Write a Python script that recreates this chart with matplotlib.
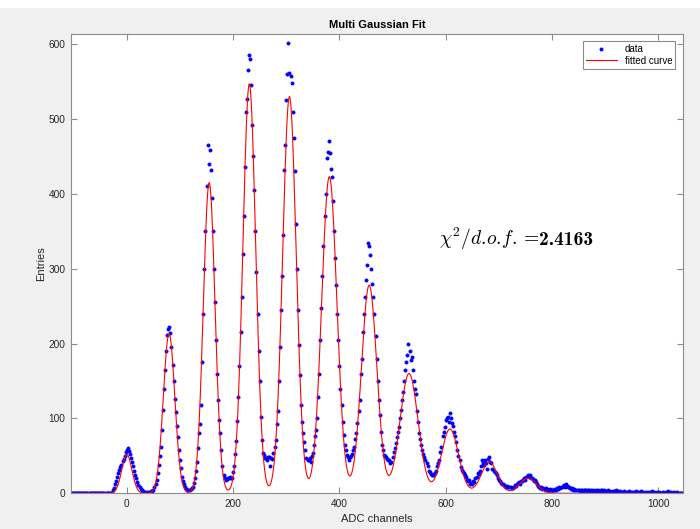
import numpy as np
import matplotlib
matplotlib.use('Agg')
import matplotlib.pyplot as plt
from matplotlib.patches import Rectangle

plt.rcParams['font.family'] = ['Liberation Sans', 'DejaVu Sans']
plt.rcParams['mathtext.fontset'] = 'cm'

# histogram counts, one value every 2 ADC channels, grouped by start channel
ped_start, ped_counts = -104, [0] * 38
p0_start, p0_counts = -28, [1, 4, 7, 12, 17, 22, 27, 31, 35, 38, 43, 46, 50, 55, 58, 60, 56, 52, 47, 42,
                            37, 30, 25, 20, 15, 11, 8, 6, 4, 3, 2, 1, 2, 1, 2, 1, 2, 3, 3]
p1_start, p1_counts = 50, [5, 8, 12, 18, 27, 38, 50, 62, 85, 111, 140, 165, 190, 212, 219, 222, 214, 195,
                           172, 150, 126, 108, 90, 75, 58, 45, 34, 22, 17, 12, 9, 6, 5, 4, 4, 6, 7, 9,
                           14, 20, 30]
p2_start, p2_counts = 132, [42, 60, 80, 92, 118, 175, 240, 300, 350, 410, 465, 440, 458, 432, 395, 350,
                            300, 255, 205, 160, 125, 98, 80, 58, 36, 24, 20, 18, 19, 21, 20, 22, 21, 20]
p3_start, p3_counts = 200, [28, 36, 52, 70, 96, 128, 170, 215, 262, 320, 370, 436, 510, 527, 566, 586, 580,
                            545, 492, 450, 405, 350, 295, 240, 190, 150, 102, 71, 54, 51, 47, 47, 45, 49,
                            48, 36, 47, 46, 54, 62, 71]
p4_start, p4_counts = 282, [92, 110, 150, 195, 245, 290, 345, 432, 465, 526, 560, 601, 562, 557, 548, 510,
                            475, 430, 360, 300, 245, 198, 158, 118, 95, 80, 68, 58, 47, 45, 44, 47, 42,
                            50, 54, 65, 76, 85, 100, 128]
p5_start, p5_counts = 362, [160, 205, 248, 290, 330, 370, 400, 448, 456, 470, 455, 433, 423, 390, 350, 315,
                            278, 240, 205, 170, 140, 118, 95, 78, 65, 58, 51, 48, 44, 49, 50, 53, 58, 62,
                            72, 80, 94, 110, 124]
p6_start, p6_counts = 440, [160, 180, 215, 240, 262, 285, 305, 335, 330, 318, 300, 280, 262, 240, 210, 180,
                            150, 125, 105, 82, 65, 58, 51, 50, 49, 46, 44, 45, 40, 42, 49, 55, 60, 67,
                            75, 82, 89, 100, 111, 124]
p7_start, p7_counts = 520, [135, 150, 165, 175, 185, 200, 190, 178, 182, 165, 150, 140, 133, 110, 95, 80,
                            72, 64, 58, 52, 48, 45, 40, 36, 30, 29, 26, 25, 24, 26, 27, 30, 36, 40, 45,
                            55, 62, 76, 82, 88]
p8_start, p8_counts = 600, [98, 100, 102, 95, 107, 100, 94, 90, 82, 76, 68, 58, 50, 44, 35, 31, 29, 27, 24,
                            22, 18, 17, 18, 13, 14, 12, 16, 15, 20, 22, 27, 26, 30, 36, 44, 40, 38, 44,
                            40, 33, 46, 49, 42, 40, 33, 30, 28, 27, 24, 20]
p10_start, p10_counts = 700, [18, 16, 14, 13, 12, 11, 10, 9, 10, 8, 9, 8, 7, 7, 9, 11, 10, 12, 14, 15, 13,
                              17, 16, 18, 20, 18, 22, 25, 22, 24, 20, 21, 19, 16, 18, 15, 12, 10, 9, 7,
                              8, 6, 7, 5, 7, 6, 5, 4, 6, 5]
tail1_start, tail1_counts = 800, [4, 5, 5, 6, 4, 7, 6, 8, 7, 9, 10, 11, 9, 12, 10, 8, 9, 7, 6, 7, 5, 6, 5,
                                  4, 5, 4, 3, 5, 4, 3, 4, 5, 4, 3, 4, 5, 3, 4, 3, 4, 3, 5, 3, 4, 3, 2,
                                  4, 5, 3, 4]
tail2_start, tail2_counts = 900, [3, 2, 3, 4, 2, 3, 2, 3, 2, 3, 4, 2, 3, 2, 3, 2, 1, 2, 3, 2, 1, 2, 3, 2,
                                  1, 2, 1, 2, 2, 3, 1, 2, 1, 2, 3, 1, 2, 1, 2, 1, 2, 1, 2, 1, 3, 1, 2,
                                  1, 1, 2, 1, 2, 1, 1, 2, 1, 1, 2, 1, 3, 1, 1, 2, 1, 1, 2, 1, 1, 2, 1,
                                  1, 1, 1]

# multi gaussian fit result
fit_mean = [0, 79.5, 155, 230.5, 306, 381, 456, 531, 608, 682, 755]
fit_amp = [52, 213, 415, 547, 530, 423, 278, 160, 86, 42, 20]
fit_sigma = [9.5, 10.8, 11, 12, 12.7, 14.3, 14.5, 17, 16, 15, 16]
chi2_dof = 2.4163

segments = [(ped_start, ped_counts), (p0_start, p0_counts), (p1_start, p1_counts),
            (p2_start, p2_counts), (p3_start, p3_counts), (p4_start, p4_counts),
            (p5_start, p5_counts), (p6_start, p6_counts), (p7_start, p7_counts),
            (p8_start, p8_counts), (p10_start, p10_counts), (tail1_start, tail1_counts),
            (tail2_start, tail2_counts)]
x_data = np.concatenate([s + 2 * np.arange(len(c)) for s, c in segments])
y_data = np.concatenate([np.array(c, dtype=float) for s, c in segments])

x_fit = np.linspace(-105, 1046, 3000)
y_fit = np.zeros_like(x_fit)
for m, a, s in zip(fit_mean, fit_amp, fit_sigma):
    y_fit += a * np.exp(-(x_fit - m) ** 2 / (2 * s ** 2))

fig = plt.figure(figsize=(7, 5.29), dpi=100, facecolor='#f0f0f0')
fig.patches.append(Rectangle((0, 1 - 7 / 529), 1, 7 / 529, transform=fig.transFigure,
                             color='white', zorder=0))
ax = fig.add_axes([71 / 700, 1 - 493.3 / 529, 612 / 700, 459.6 / 529])

ax.plot(x_data, y_data, '.', color='b', ms=4.5, mew=0.6, label='data', zorder=2)
ax.plot(x_fit, y_fit, '-', color='r', lw=0.8, label='fitted curve', zorder=3)

ax.set_xlim(-105, 1046.5)
ax.set_ylim(0, 614)
ax.set_xticks(np.arange(0, 1001, 200))
ax.set_yticks(np.arange(0, 601, 100))

grey = '#262626'
for sp in ax.spines.values():
    sp.set_color('#8c8c8c')
    sp.set_linewidth(0.8)
ax.tick_params(direction='in', length=4, width=0.8, color='#8c8c8c', labelcolor=grey,
               labelsize=7.3, top=True, right=True, pad=4)

ax.set_title('Multi Gaussian Fit', fontsize=8, fontweight='bold', color='black', pad=4)
ax.set_xlabel('ADC channels', fontsize=8, color=grey, labelpad=4)
ax.set_ylabel('Entries', fontsize=8, color=grey, labelpad=2)

# chi2 label: math part, then the bold value right after it
t1 = ax.text(588, 332, r'$\chi^2/d.\!o.\!f.=$', fontsize=14, ha='left', va='baseline')
fig.canvas.draw()
bb = t1.get_window_extent()
x_num = ax.transData.inverted().transform((bb.x1 - 1, 0))[0]
ax.text(x_num, 332, '%.4f' % chi2_dof, fontsize=14, family='cmb10', fontweight='bold',
        ha='left', va='baseline')

leg = ax.legend(loc='upper right', fontsize=7, fancybox=False, framealpha=1,
                edgecolor='#8c8c8c', borderaxespad=0.8, handlelength=3.2,
                labelspacing=0.15, borderpad=0.3)
leg.get_frame().set_linewidth(0.8)

fig.savefig('out.png', dpi=100, facecolor=fig.get_facecolor())
